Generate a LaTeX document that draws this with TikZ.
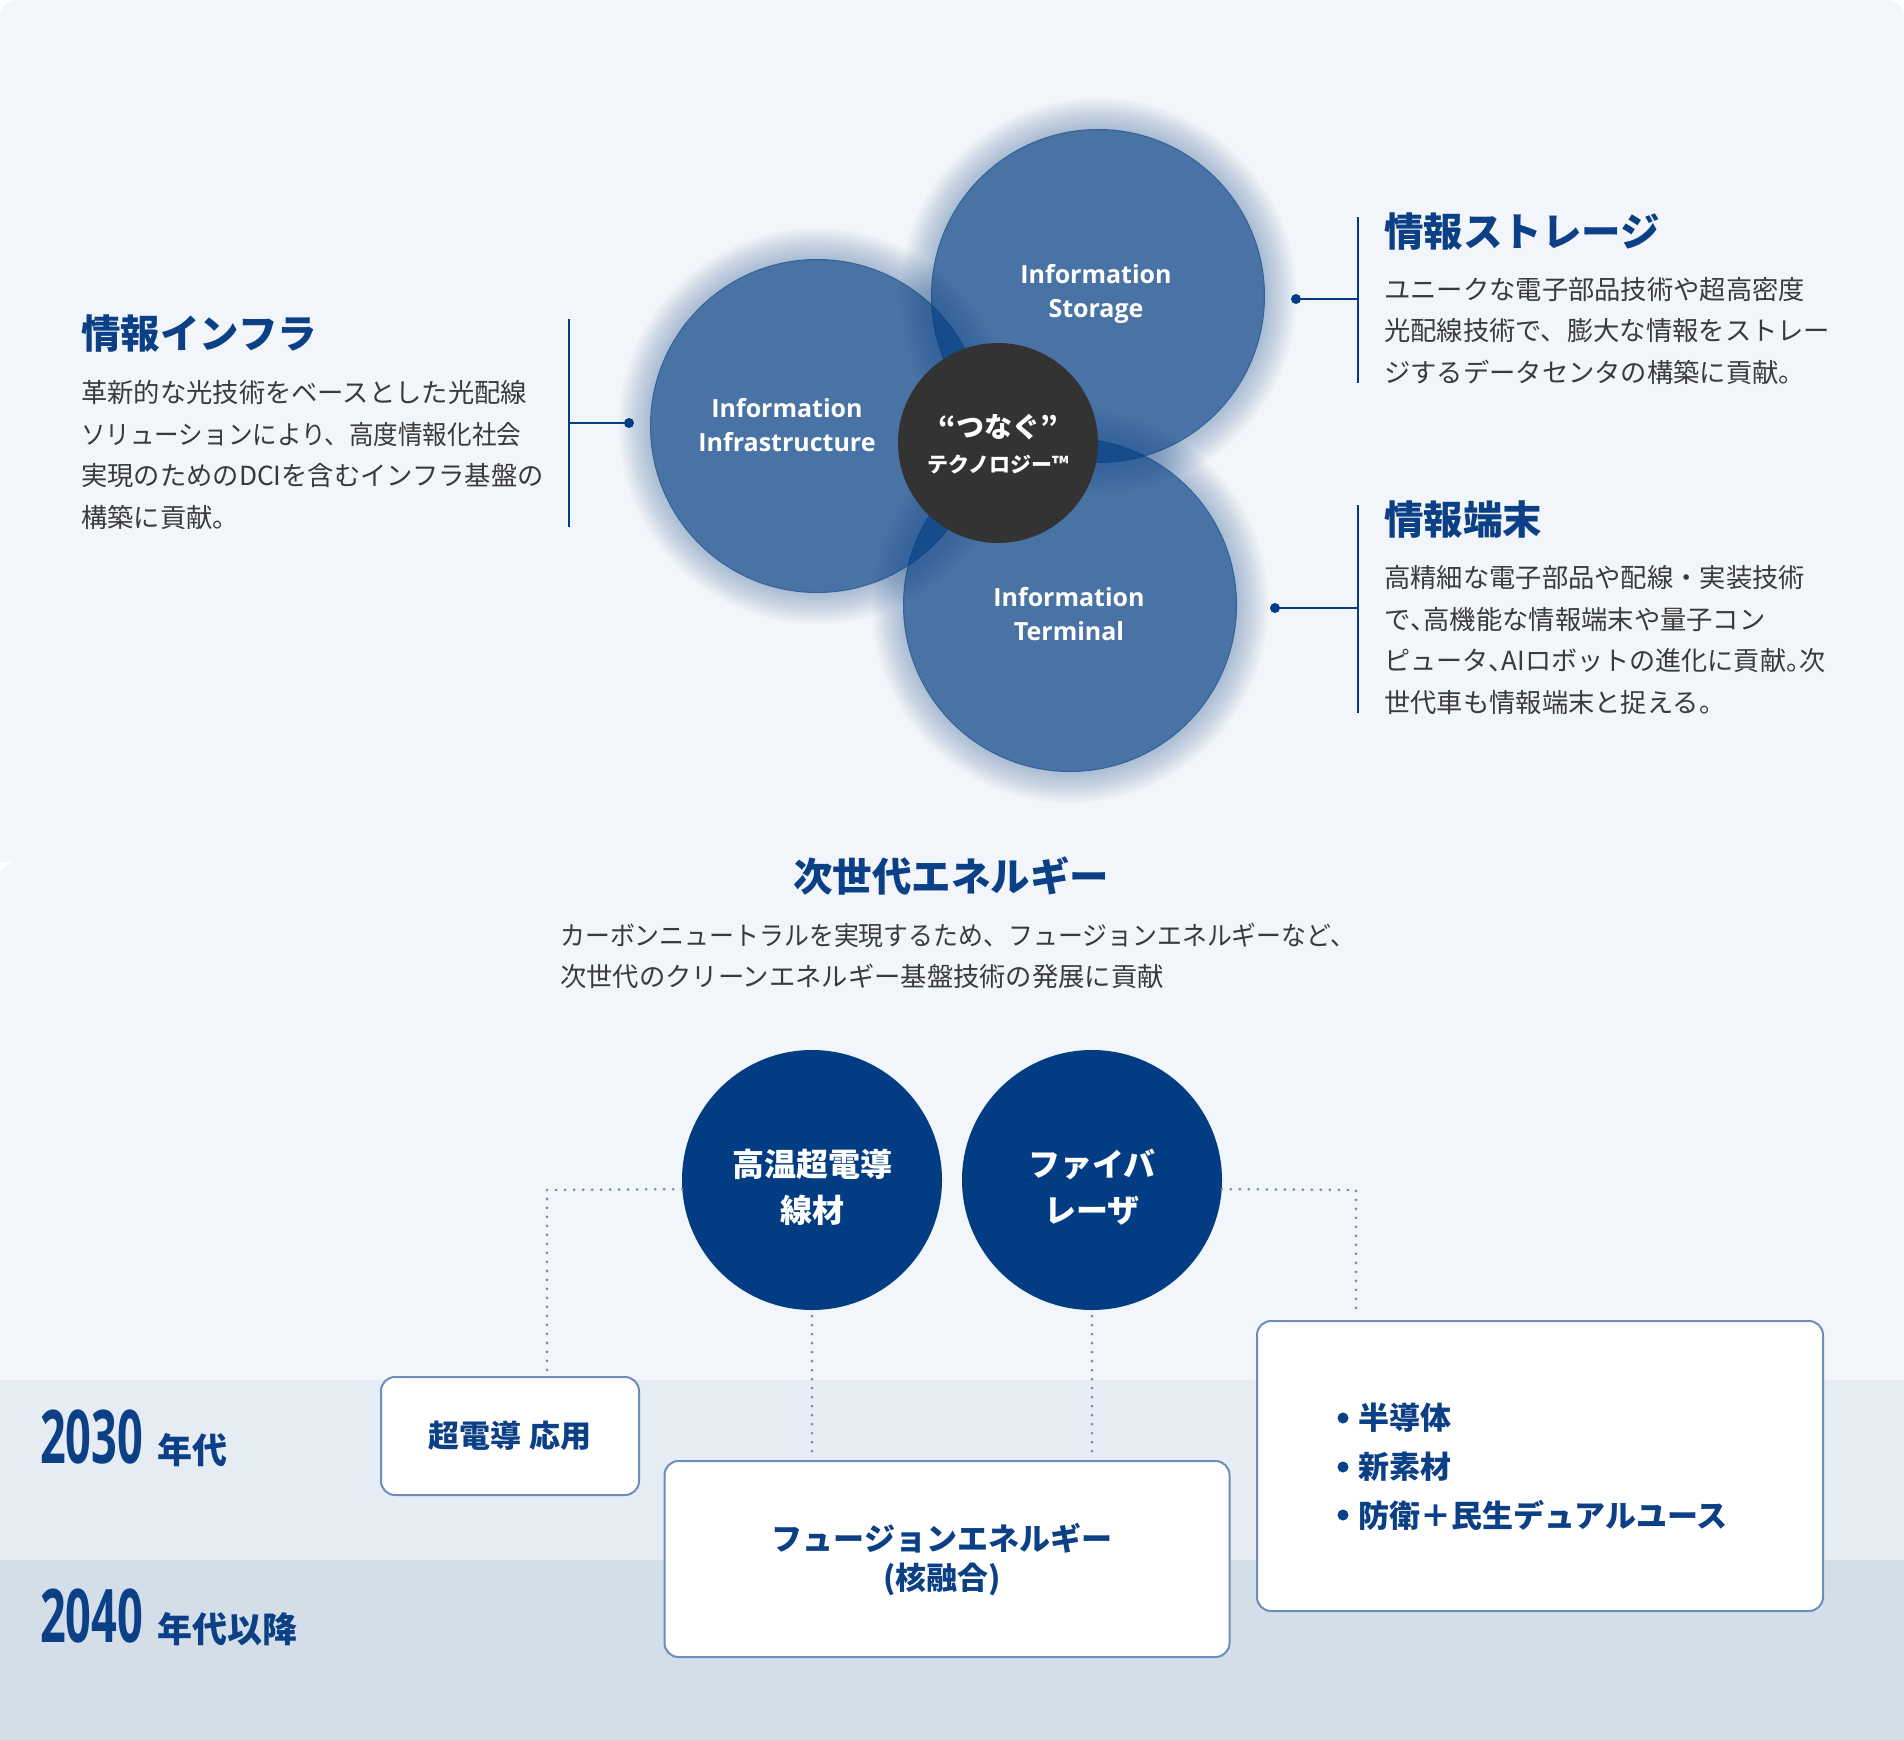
\documentclass[tikz,border=0pt]{standalone}
\usepackage{fontspec}
\setmainfont{Noto Sans}
\newfontfamily\jp{Noto Sans CJK JP}
\newfontfamily\ensf{Open Sans}
\definecolor{navy}{HTML}{023C82}
\definecolor{navyT}{HTML}{0B3F86}
\definecolor{txt}{HTML}{3A3A3A}
\definecolor{panel}{HTML}{F2F5F9}
\definecolor{bandA}{HTML}{E6ECF3}
\definecolor{bandB}{HTML}{D4DEE9}
\definecolor{dotc}{HTML}{6F8DBB}
\definecolor{boxc}{HTML}{6D8DBD}
\definecolor{darkc}{HTML}{333333}
\newcommand{\hc}{\makebox[0.5em][l]{、}}
\newcommand{\hp}{\makebox[0.5em][l]{。}}
\newcommand{\fitw}[2]{\resizebox{#1}{\height}{#2}}
\tikzset{
  bigc/.style={circle, fill=navy, fill opacity=0.7, draw=none, minimum size=334pt, inner sep=0pt},
  glow/.style={fill=navy, opacity=0.02, even odd rule},
  enlabel/.style={font=\ensf\bfseries\fontsize{25}{34.5}\selectfont, text=white, align=center, inner sep=0pt},
  headtxt/.style={font=\jp\bfseries\fontsize{39.5}{46}\selectfont, text=navyT, inner sep=0pt, anchor=west},
  bodytxt/.style={font=\jp\fontsize{26.3}{41.6}\selectfont, text=txt, align=left, inner sep=0pt, anchor=west},
  conn/.style={draw=navy, line width=2pt},
  dotn/.style={circle, fill=navy, minimum size=10pt, inner sep=0pt},
  ncirc/.style={circle, fill=navy, minimum size=260pt, inner sep=0pt},
  ctxt/.style={font=\jp\bfseries\fontsize{32}{46}\selectfont, text=white, align=center, inner sep=0pt},
  dotl/.style={draw=dotc, line width=3pt, line cap=round, dash pattern=on 0pt off 9pt},
  ebox/.style={draw=boxc, line width=2pt, fill=white, rounded corners=14pt, inner sep=0pt},
  boxtxt/.style={font=\jp\bfseries\fontsize{31}{39}\selectfont, text=navyT, align=center, inner sep=0pt},
  yeartxt/.style={font=\ensf\bfseries\fontsize{74}{74}\selectfont, text=navyT, inner sep=0pt, anchor=base west},
  yearjp/.style={font=\jp\bfseries\fontsize{35}{35}\selectfont, text=navyT, inner sep=0pt, anchor=base west},
}
\begin{document}
\begin{tikzpicture}[x=1pt,y=-1pt]
\useasboundingbox (0,0) rectangle (1904,1740);
% backgrounds
\fill[white] (0,0) rectangle (1904,1740);
\fill[panel] (0,880) [rounded corners=16pt] -- (0,0) -- (1904,0) -- (1904,40) [sharp corners] -- (1904,880) -- cycle;
\fill[white] (0,862) rectangle (20,882);
\fill[panel] (0,1740) [rounded corners=16pt] -- (0,862) -- (40,862) [sharp corners] -- (1904,862) -- (1904,1740) -- cycle;
\fill[bandA] (0,1380) rectangle (1904,1560);
\fill[bandB] (0,1560) rectangle (1904,1740);

% circle centres
\coordinate (cI) at (817,426);
\coordinate (cS) at (1098,296);
\coordinate (cT) at (1070,605);
% glows (soft rings outside each circle)
\foreach \c in {cI,cS,cT}{
  \foreach \k in {1,...,16}{
    \fill[glow] (\c) circle ({166+2*\k}) (\c) circle (166);
  }
}
% circles
\node[bigc] (infra) at (cI) {};
\node[bigc] (stor) at (cS) {};
\node[bigc] (term) at (cT) {};
\node[circle, fill=darkc, minimum size=200pt, inner sep=0pt] (core) at (998,443) {};

\node[enlabel] (linfra) at (787,425) {Information\\Infrastructure};
\node[enlabel] (lstor) at (1096,294) {Information\\Storage};
\node[enlabel] (lterm) at (1069,614) {Information\\Terminal};
\node[font=\jp\bfseries\fontsize{28}{28}\selectfont, text=white, inner sep=0pt] (core1) at (998,427) {“つなぐ”};
\node[font=\jp\bfseries\fontsize{21}{21}\selectfont, text=white, inner sep=0pt] (core2) at (998,464) {テクノロジー™};

% left text block
\node[headtxt] (hL) at (81,334) {情報インフラ};
\node[bodytxt] (bL) at (81,455) {革新的な光技術をベースとした光配線\\\fitw{440pt}{ソリューションにより、高度情報化社会}\\実現のためのDCIを含むインフラ基盤の\\構築に貢献。};
\coordinate (vLt) at (569,319);
\coordinate (vLb) at (569,527);
\draw[conn] (vLt) -- (vLb);
\node[dotn] (dL) at (629,423) {};
\draw[conn] (dL.center) -- (dL.center -| vLt);

% storage text block
\node[headtxt] (hS) at (1384,232) {情報ストレージ};
\node[bodytxt] (bS) at (1384,331) {ユニークな電子部品技術や超高密度\\光配線技術で、膨大な情報をストレー\\ジするデータセンタの構築に貢献。};
\coordinate (vSt) at (1358,217);
\coordinate (vSb) at (1358,383);
\draw[conn] (vSt) -- (vSb);
\node[dotn] (dS) at (1296,299) {};
\draw[conn] (dS.center) -- (dS.center -| vSt);

% terminal text block
\node[headtxt] (hT) at (1384,520) {情報端末};
\node[bodytxt] (bT) at (1384,640) {高精細な電子部品や配線・実装技術\\で\hc 高機能な情報端末や量子コン\\\fitw{441pt}{ピュータ\hc AIロボットの進化に貢献\hp 次}\\世代車も情報端末と捉える。};
\coordinate (vTt) at (1358,505);
\coordinate (vTb) at (1358,713);
\draw[conn] (vTt) -- (vTb);
\node[dotn] (dT) at (1275,608) {};
\draw[conn] (dT.center) -- (dT.center -| vTt);

% next-gen energy
\node[font=\jp\bfseries\fontsize{39.5}{46}\selectfont, text=navyT, inner sep=0pt] (hE) at (951,876) {次世代エネルギー};
\node[bodytxt, anchor=west] (bE) at (560,956) {\fitw{795pt}{カーボンニュートラルを実現するため、フュージョンエネルギーなど、}\\次世代のクリーンエネルギー基盤技術の発展に貢献};

% bottom circles
\node[ncirc] (hts) at (812,1180) {};
\node[ncirc] (fib) at (1092,1180) {};
\node[ctxt] (thts) at (812,1187) {高温超電導\\線材};
\node[ctxt] (tfib) at (1092,1187) {ファイバ\\レーザ};

% boxes
\node[ebox, minimum width=258pt, minimum height=118pt] (sc) at (510,1436) {};
\node[boxtxt] (tsc) at (510,1436) {超電導 応用};
\node[ebox, minimum width=565pt, minimum height=196pt] (fus) at (947,1559) {};
\node[boxtxt] (tfus) at (942,1560) {フュージョンエネルギー\\(核融合)};
\node[ebox, minimum width=566pt, minimum height=290pt] (rb) at (1540,1466) {};
\node[circle, fill=navyT, minimum size=11pt, inner sep=0pt] (b1) at (1343,1418) {};
\node[circle, fill=navyT, minimum size=11pt, inner sep=0pt] (b2) at (1343,1467) {};
\node[circle, fill=navyT, minimum size=11pt, inner sep=0pt] (b3) at (1343,1515) {};
\node[boxtxt, anchor=west] (t1) at (1358,1418) {半導体};
\node[boxtxt, anchor=west] (t2) at (1358,1467) {新素材};
\node[boxtxt, anchor=west] (t3) at (1358,1515) {防衛＋民生デュアルユース};

% dotted connectors
\coordinate (jL) at (547,1190);
\coordinate (jR) at (1356,1190);
\draw[dotl] (hts.184) -- (jL) -- (jL |- sc.north);
\draw[dotl, shorten <=6pt, shorten >=6pt] (hts.south) -- (hts.south |- fus.north);
\draw[dotl, shorten <=6pt, shorten >=6pt] (fib.south) -- (fib.south |- fus.north);
\draw[dotl, shorten >=7pt] (fib.356) -- (jR) -- (jR |- rb.north);

% years
\node[yeartxt] (y30) at (40,1463) {\scalebox{0.61}[1]{2030}};
\node[yearjp] (n30) at (157,1463) {年代};
\node[yeartxt] (y40) at (40,1642) {\scalebox{0.61}[1]{2040}};
\node[yearjp] (n40) at (157,1642) {年代以降};
\end{tikzpicture}
\end{document}
